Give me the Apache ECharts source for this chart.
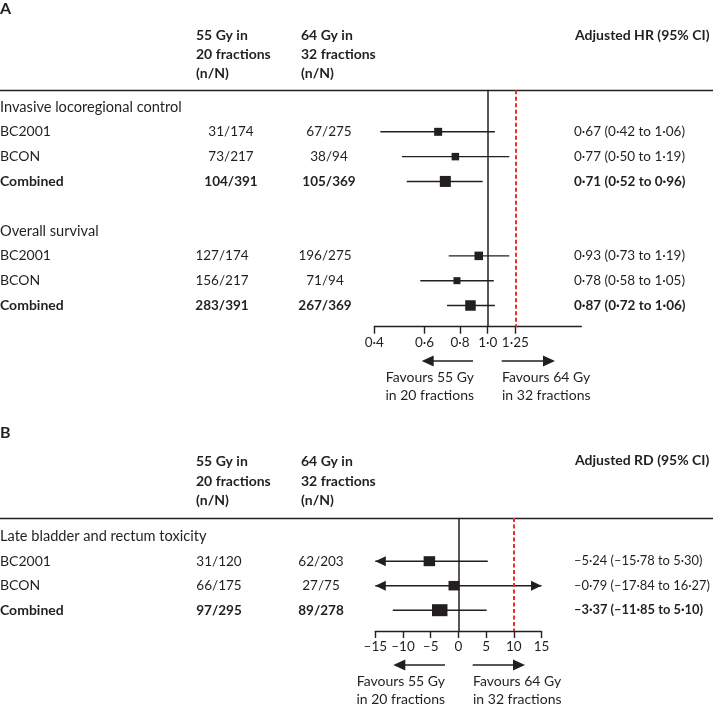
<!DOCTYPE html>
<html><head><meta charset="utf-8">
<script src="https://cdn.jsdelivr.net/npm/echarts@6/dist/echarts.min.js"></script>
<style>html,body{margin:0;padding:0;background:#fff}#c{width:713px;height:706px}</style>
</head><body><div id="c"></div>
<script>
// ---------------- Panel A data ----------------
const groupsA = ['Invasive locoregional control', 'Overall survival'];
const studiesA = ['BC2001', 'BCON', 'Combined'];
const events55A = [['31/174', '73/217', '104/391'], ['127/174', '156/217', '283/391']];
const events64A = [['67/275', '38/94', '105/369'], ['196/275', '71/94', '267/369']];
const hrA = [[0.67, 0.77, 0.71], [0.93, 0.78, 0.87]];
const hrLowA = [[0.42, 0.50, 0.52], [0.73, 0.58, 0.72]];
const hrHighA = [[1.06, 1.19, 0.96], [1.19, 1.05, 1.06]];
const tickValuesA = [0.4, 0.6, 0.8, 1.0, 1.25];
const tickLabelsA = ['0·4', '0·6', '0·8', '1·0', '1·25'];
const refLinesA = [1.0, 1.25];

// ---------------- Panel B data ----------------
const groupB = 'Late bladder and rectum toxicity';
const studiesB = ['BC2001', 'BCON', 'Combined'];
const events55B = ['31/120', '66/175', '97/295'];
const events64B = ['62/203', '27/75', '89/278'];
const rdB = [-5.24, -0.79, -3.37];
const rdLowB = [-15.78, -17.84, -11.85];
const rdHighB = [5.30, 16.27, 5.10];
const tickValuesB = [-15, -10, -5, 0, 5, 10, 15];
const tickLabelsB = ['–15', '–10', '–5', '0', '5', '10', '15'];
const refLinesB = [0, 10];

// ---------------- styling (not data) ----------------
const boxA = [[8, 7.5, 11], [8.5, 7, 10.5]];
const boxB = [[11.5, 10], [11, 9.5], [15.5, 12]];
const INK = '#231f20';
const RED = '#e8302a';
const FONT = 'Lato';
const NUM = 13.5;   // size for numeric text
const WORD = 14;    // size for word text

function fmt(v) {
  return v.toFixed(2).replace('.', '·').replace('-', '–');
}

const chart = echarts.init(document.getElementById('c'), null, { renderer: 'canvas' });

const dataA = [];
groupsA.forEach((g, gi) => {
  studiesA.forEach((s, si) => {
    const row = gi * 5 + si + 1;
    dataA.push([hrA[gi][si], hrLowA[gi][si], hrHighA[gi][si], row, boxA[gi][si], boxA[gi][si]]);
  });
});
const dataB = studiesB.map((s, i) => [rdB[i], rdLowB[i], rdHighB[i], i + 1, boxB[i][0], boxB[i][1]]);

function forestItem(clampMin, clampMax) {
  return function (params, api) {
    const est = api.value(0), lo = api.value(1), hi = api.value(2), row = api.value(3);
    const w = api.value(4), h = api.value(5);
    const loC = Math.max(lo, clampMin), hiC = Math.min(hi, clampMax);
    const pL = api.coord([loC, row]), pR = api.coord([hiC, row]), pE = api.coord([est, row]);
    const ch = [{
      type: 'line', shape: { x1: pL[0], y1: pL[1], x2: pR[0], y2: pR[1] },
      style: { stroke: INK, lineWidth: 1.4 }
    }];
    if (lo < clampMin) ch.push({ type: 'polygon', shape: { points: [[pL[0], pL[1]], [pL[0] + 10.5, pL[1] - 5], [pL[0] + 10.5, pL[1] + 5]] }, style: { fill: INK } });
    if (hi > clampMax) ch.push({ type: 'polygon', shape: { points: [[pR[0], pR[1]], [pR[0] - 10.5, pR[1] - 5], [pR[0] - 10.5, pR[1] + 5]] }, style: { fill: INK } });
    ch.push({ type: 'rect', shape: { x: pE[0] - w / 2, y: pE[1] - h / 2, width: w, height: h }, style: { fill: INK } });
    return { type: 'group', children: ch };
  };
}

function refMark(vals, axisKey) {
  return {
    symbol: ['none', 'none'], silent: true, label: { show: false }, animation: false,
    data: [
      { [axisKey]: vals[0], lineStyle: { color: INK, width: 1.5, type: 'solid' } },
      { [axisKey]: vals[1], lineStyle: { color: RED, width: 2, type: [4, 2.5] } }
    ]
  };
}

const axisCommon = {
  position: 'bottom',
  axisLine: { onZero: false, lineStyle: { color: INK, width: 1.4 } },
  axisTick: { length: 7, lineStyle: { color: INK, width: 1.4 } },
  splitLine: { show: false },
  axisLabel: { color: INK, fontFamily: FONT, fontSize: NUM, margin: 9 }
};

chart.setOption({
  animation: false,
  grid: [
    { left: 374.3, width: 207, top: 90.3, height: 236.4, containLabel: false, outerBoundsMode: 'none' },
    { left: 375.3, width: 166.2, top: 518, height: 113, containLabel: false, outerBoundsMode: 'none' }
  ],
  xAxis: [
    Object.assign({}, axisCommon, {
      gridIndex: 0, type: 'log', logBase: 10, min: 0.4, max: 2.13,
      axisTick: Object.assign({}, axisCommon.axisTick, { customValues: tickValuesA }),
      axisLabel: Object.assign({}, axisCommon.axisLabel, {
        customValues: tickValuesA,
        formatter: v => { const i = tickValuesA.findIndex(t => Math.abs(t - v) < 1e-6); return i >= 0 ? tickLabelsA[i] : ''; }
      })
    }),
    Object.assign({}, axisCommon, {
      gridIndex: 1, type: 'value', min: -15, max: 15, interval: 5,
      axisLabel: Object.assign({}, axisCommon.axisLabel, {
        formatter: v => { const i = tickValuesB.indexOf(v); return i >= 0 ? tickLabelsB[i] : ''; }
      })
    })
  ],
  yAxis: [
    { gridIndex: 0, type: 'value', inverse: true, min: -0.673, max: 8.855, show: false },
    { gridIndex: 1, type: 'value', inverse: true, min: -0.763, max: 3.849, show: false }
  ],
  series: [
    {
      type: 'custom', xAxisIndex: 0, yAxisIndex: 0, data: dataA, clip: false,
      encode: { x: [0, 1, 2], y: 3 }, renderItem: forestItem(0.4, 2.13),
      markLine: refMark(refLinesA, 'xAxis'), z: 3
    },
    {
      type: 'custom', xAxisIndex: 1, yAxisIndex: 1, data: dataB, clip: false,
      encode: { x: [0, 1, 2], y: 3 }, renderItem: forestItem(-15, 15),
      markLine: refMark(refLinesB, 'xAxis'), z: 3
    }
  ]
});

// ---------------- text layer ----------------
const g = [];
function txt(x, y, s, opt) {
  opt = opt || {};
  g.push({
    type: 'text', x: x, y: y, silent: true,
    style: {
      text: s, fill: INK, fontFamily: FONT, fontSize: opt.size || WORD,
      fontWeight: opt.bold ? 'bold' : 'normal', align: opt.align || 'left',
      verticalAlign: 'middle', lineHeight: opt.lh || 19
    }
  });
}
function hline(y) {
  g.push({ type: 'line', silent: true, shape: { x1: 0, y1: y, x2: 713, y2: y }, style: { stroke: INK, lineWidth: 1.5 } });
}
function arrow(x1, x2, y) {
  const dir = x2 > x1 ? 1 : -1;
  g.push({ type: 'line', silent: true, shape: { x1: x1, y1: y, x2: x2 - dir * 10, y2: y }, style: { stroke: INK, lineWidth: 1.6 } });
  g.push({ type: 'polygon', silent: true, shape: { points: [[x2, y], [x2 - dir * 12, y - 5.5], [x2 - dir * 12, y + 5.5]] }, style: { fill: INK } });
}
const yA = r => chart.convertToPixel({ yAxisIndex: 0 }, r);
const yB = r => chart.convertToPixel({ yAxisIndex: 1 }, r);

// Panel A
txt(0, 9, 'A', { size: 16, bold: true });
txt(196, 54, '55 Gy in\n20 fractions\n(n/N)', { bold: true });
txt(301, 54, '64 Gy in\n32 fractions\n(n/N)', { bold: true });
txt(575, 35, 'Adjusted HR (95% CI)', { bold: true });
hline(90.5);
const colA = [[231, 329], [222, 325]];
groupsA.forEach((grp, gi) => {
  txt(0, yA(gi * 5), grp, { size: 14.6 });
  studiesA.forEach((s, si) => {
    const y = yA(gi * 5 + si + 1);
    const b = s === 'Combined';
    txt(0, y, s, { bold: b });
    txt(colA[gi][0], y, events55A[gi][si], { bold: b, align: 'center', size: NUM });
    txt(colA[gi][1], y, events64A[gi][si], { bold: b, align: 'center', size: NUM });
    txt(574, y, fmt(hrA[gi][si]) + ' (' + fmt(hrLowA[gi][si]) + ' to ' + fmt(hrHighA[gi][si]) + ')', { bold: b, size: NUM });
  });
});
arrow(473, 421.7, 361);
arrow(501.7, 555, 361);
txt(474, 386, 'Favours 55 Gy\nin 20 fractions', { align: 'right', lh: 18 });
txt(502, 386, 'Favours 64 Gy\nin 32 fractions', { lh: 18 });

// Panel B
txt(0, 433, 'B', { size: 16, bold: true });
txt(196, 481, '55 Gy in\n20 fractions\n(n/N)', { bold: true, lh: 19.5 });
txt(301, 481, '64 Gy in\n32 fractions\n(n/N)', { bold: true, lh: 19.5 });
txt(575, 460.5, 'Adjusted RD (95% CI)', { bold: true });
hline(518.5);
txt(0, yB(0), groupB, { size: 14.6 });
studiesB.forEach((s, i) => {
  const y = yB(i + 1);
  const b = s === 'Combined';
  txt(0, y, s, { bold: b });
  txt(219, y, events55B[i], { bold: b, align: 'center', size: NUM });
  txt(321, y, events64B[i], { bold: b, align: 'center', size: NUM });
  txt(574, y, fmt(rdB[i]) + ' (' + fmt(rdLowB[i]) + ' to ' + fmt(rdHighB[i]) + ')', { bold: b, size: 12.9 });
});
arrow(445, 393.3, 665);
arrow(472.7, 525, 665);
txt(445, 690, 'Favours 55 Gy\nin 20 fractions', { align: 'right', lh: 18 });
txt(473, 690, 'Favours 64 Gy\nin 32 fractions', { lh: 18 });

chart.setOption({ graphic: g });
</script>
</body></html>
